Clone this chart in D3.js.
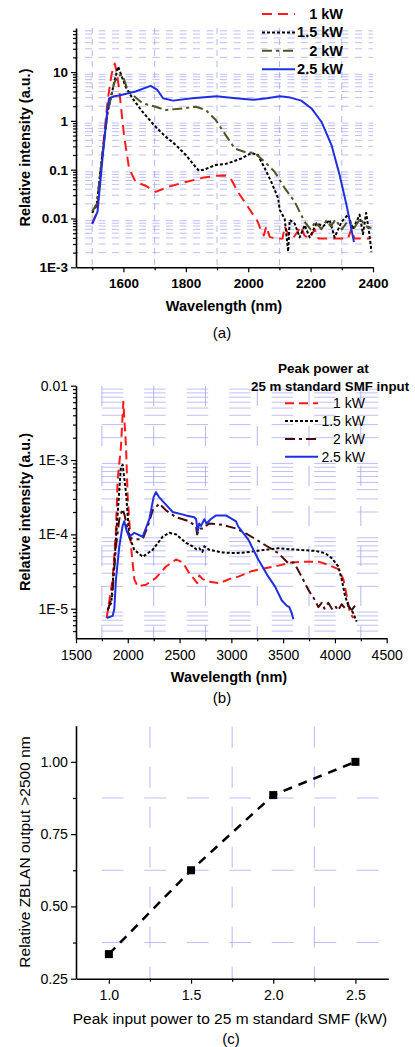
<!DOCTYPE html>
<html>
<head>
  <meta charset="utf-8">
  <title>Supercontinuum spectra</title>
  <script src="https://d3js.org/d3.v7.min.js"></script>
  <style>
    body { margin: 0; background: #fff; }
    text { font-family: "Liberation Sans", Arial, sans-serif; fill: #000; }
  </style>
</head>
<body>
<script>
// ---- data (a): ZBLAN output spectra, [wavelength nm, relative intensity]
var aSeries = ["1 kW", "1.5 kW", "2 kW", "2.5 kW"];
var a1kW = [[1500,0.008],[1512,0.012],[1520,0.03],[1535,0.3],[1549,2.5],[1562,9],[1572,15],[1580,9],[1588,3.5],[1602,0.5],[1618,0.107],[1639,0.056],[1671,0.047],[1703,0.035],[1746,0.045],[1800,0.056],[1853,0.068],[1896,0.075],[1925,0.076],[1944,0.066],[1967,0.035],[2000,0.017],[2031,0.0085],[2042,0.0054],[2050,0.0045],[2058,0.0069],[2069,0.0042],[2090,0.0038],[2110,0.0039],[2117,0.0069],[2130,0.0045],[2143,0.0039],[2170,0.0069],[2180,0.0045],[2197,0.0039],[2213,0.006],[2225,0.0039],[2320,0.0039],[2331,0.0062],[2340,0.0039],[2390,0.0039]];
var a15kW = [[1500,0.013],[1515,0.02],[1530,0.15],[1549,1.5],[1570,5.9],[1583,13],[1595,8],[1607,5],[1629,2.9],[1661,1.54],[1698,0.82],[1730,0.51],[1768,0.32],[1800,0.2],[1826,0.125],[1842,0.095],[1858,0.1],[1896,0.125],[1925,0.13],[1949,0.145],[1978,0.17],[2010,0.22],[2031,0.2],[2053,0.107],[2074,0.056],[2096,0.026],[2101,0.015],[2117,0.0098],[2128,0.0021],[2133,0.0093],[2149,0.0079],[2165,0.0041],[2181,0.0073],[2197,0.0041],[2219,0.008],[2240,0.0069],[2261,0.0093],[2277,0.0041],[2299,0.0085],[2320,0.012],[2336,0.006],[2357,0.012],[2368,0.0048],[2378,0.013],[2389,0.0045],[2395,0.0021]];
var a2kW = [[1500,0.014],[1515,0.02],[1530,0.15],[1549,1.4],[1570,6],[1585,8.5],[1597,8.7],[1610,5],[1623,3.7],[1661,2.3],[1703,1.95],[1735,1.67],[1789,1.8],[1832,1.95],[1864,1.67],[1896,1.04],[1928,0.51],[1957,0.27],[1989,0.23],[2021,0.22],[2053,0.145],[2085,0.09],[2117,0.042],[2149,0.022],[2165,0.0137],[2181,0.0085],[2200,0.006],[2215,0.0085],[2235,0.006],[2250,0.009],[2265,0.007],[2280,0.0095],[2300,0.006],[2320,0.009],[2340,0.0065],[2360,0.01],[2375,0.007],[2395,0.0064]];
var a25kW = [[1500,0.0077],[1517,0.0138],[1533,0.17],[1549,1.8],[1554,2.9],[1570,3.2],[1586,3.3],[1639,4.0],[1687,5.2],[1709,4.3],[1727,2.9],[1759,2.6],[1821,2.9],[1898,3.2],[1960,2.9],[2015,2.7],[2060,2.9],[2101,3.2],[2135,3.0],[2170,2.6],[2203,1.8],[2235,0.95],[2267,0.32],[2293,0.078],[2315,0.019],[2328,0.0074],[2339,0.0033]];
var aYTicks = [1e-3, 0.01, 0.1, 1, 10];
var aYLabels = ["1E-3", "0.01", "0.1", "1", "10"];
var aXTicks = [1600, 1800, 2000, 2200, 2400];
var aXMinor = [1500, 1700, 1900, 2100, 2300];

// ---- data (b): spectra at 25 m standard SMF input
var bSeries = ["1 kW", "1.5 kW", "2 kW", "2.5 kW"];
var b1kW = [[1796,7.5e-6],[1854,2.5e-5],[1886,1.15e-4],[1902,5.4e-4],[1934,1.5e-3],[1957,6.1e-3],[1983,1.5e-3],[1999,3.2e-4],[2031,6.9e-5],[2063,2.5e-5],[2095,2e-5],[2176,2.1e-5],[2272,2.6e-5],[2369,3.7e-5],[2466,4.6e-5],[2530,4.2e-5],[2594,3e-5],[2642,2.5e-5],[2670,2.2e-5],[2690,2.8e-5],[2723,2.5e-5],[2787,2.3e-5],[2884,2.2e-5],[2980,2.5e-5],[3067,2.7e-5],[3196,3.2e-5],[3325,3.5e-5],[3453,3.8e-5],[3583,4.2e-5],[3711,4.3e-5],[3840,4.3e-5],[3936,3.9e-5],[4033,3.4e-5],[4081,2.5e-5],[4114,1.5e-5],[4146,8.7e-6],[4178,7.5e-6]];
var b15kW = [[1806,9.7e-6],[1840,1.2e-5],[1870,4.1e-5],[1902,1.9e-4],[1934,8.2e-4],[1951,8.6e-4],[1983,3.6e-4],[2015,9.3e-5],[2063,6.2e-5],[2144,5e-5],[2240,6.2e-5],[2337,9.3e-5],[2401,1.05e-4],[2466,1e-4],[2562,7.7e-5],[2627,6.9e-5],[2660,6.3e-5],[2691,6.5e-5],[2720,5.8e-5],[2739,6.9e-5],[2787,6.2e-5],[2916,5.7e-5],[3045,5.6e-5],[3132,5.7e-5],[3325,6.2e-5],[3453,6.5e-5],[3646,6.2e-5],[3808,6e-5],[3904,5.6e-5],[3969,4.8e-5],[4033,3.7e-5],[4065,2.5e-5],[4097,1.5e-5],[4130,1.1e-5],[4178,8.7e-6],[4210,6.7e-6]];
var b2kW = [[1806,9.5e-6],[1850,1.5e-5],[1886,6.9e-5],[1918,1.6e-4],[1950,2.2e-4],[1970,1.8e-4],[2015,9e-5],[2079,8.6e-5],[2144,8.6e-5],[2192,1.27e-4],[2240,2.1e-4],[2305,2.6e-4],[2369,2.1e-4],[2466,1.7e-4],[2594,1.5e-4],[2659,1.27e-4],[2670,1.0e-4],[2690,1.2e-4],[2723,1.2e-4],[2787,1.4e-4],[2916,1.34e-4],[3045,1.2e-4],[3132,1.05e-4],[3325,7.2e-5],[3453,5.6e-5],[3550,4.1e-5],[3600,4.2e-5],[3630,3.6e-5],[3679,2.7e-5],[3743,1.8e-5],[3808,1.3e-5],[3840,1.05e-5],[3872,1.2e-5],[3900,1e-5],[3936,1.2e-5],[3970,1.0e-5],[4001,1.1e-5],[4030,9.5e-6],[4065,1.15e-5],[4100,1e-5],[4130,1.1e-5],[4160,9.5e-6],[4194,1.1e-5]];
var b25kW = [[1796,7.5e-6],[1854,8e-6],[1870,1e-5],[1886,2.5e-5],[1918,6.9e-5],[1950,1.3e-4],[1966,1.5e-4],[1990,1.1e-4],[2015,9.3e-5],[2063,1.05e-4],[2144,9.3e-5],[2208,1.6e-4],[2250,3.2e-4],[2272,3.7e-4],[2300,3.2e-4],[2337,2.8e-4],[2434,2e-4],[2562,1.8e-4],[2642,1.7e-4],[2660,1.6e-4],[2675,1.1e-4],[2690,1.4e-4],[2707,1.3e-4],[2739,1.6e-4],[2760,1.4e-4],[2800,1.6e-4],[2852,1.8e-4],[2948,1.8e-4],[3045,1.5e-4],[3067,1.27e-4],[3164,8.5e-5],[3260,4.6e-5],[3357,2.7e-5],[3421,2e-5],[3486,1.3e-5],[3534,1.1e-5],[3560,1.05e-5],[3583,8.7e-6],[3599,7.2e-6]];
var bYTicks = [1e-5, 1e-4, 1e-3, 0.01];
var bYLabels = ["1E-5", "1E-4", "1E-3", "0.01"];
var bXTicks = [1500, 2000, 2500, 3000, 3500, 4000, 4500];
var bXMinor = [1750, 2250, 2750, 3250, 3750, 4250];

// ---- data (c): relative ZBLAN output beyond 2500 nm
var cPower = [1.0, 1.5, 2.0, 2.5];
var cRelative = [0.335, 0.625, 0.885, 1.0];
var cXTicks = [1.0, 1.5, 2.0, 2.5];
var cXMinor = [1.25, 1.75, 2.25];
var cYTicks = [0.25, 0.50, 0.75, 1.00];
var cYMinor = [0.375, 0.625, 0.875];

var width = 415, height = 1047;
var svg = d3.select("body").append("svg").attr("width", width).attr("height", height);
var gridColor = "#a3a3f2";

// minor log positions 2..9 per decade
function logMinor(lo, hi) {
  var out = [];
  for (var e = Math.floor(Math.log10(lo)); e <= Math.ceil(Math.log10(hi)); e++) {
    for (var m = 2; m <= 9; m++) {
      var v = m * Math.pow(10, e);
      if (v > lo && v < hi) out.push(v);
    }
  }
  return out;
}

function hGrid(vals, y, x0, x1, dash, offset) {
  svg.append("g").selectAll("line").data(vals).enter().append("line")
    .attr("x1", x0).attr("x2", x1)
    .attr("y1", function (d) { return y(d); }).attr("y2", function (d) { return y(d); })
    .attr("stroke", gridColor).attr("stroke-width", 0.7)
    .attr("stroke-dasharray", dash).attr("stroke-dashoffset", offset);
}
function vGrid(vals, x, y0, y1, dash) {
  svg.append("g").selectAll("line").data(vals).enter().append("line")
    .attr("y1", y0).attr("y2", y1)
    .attr("x1", function (d) { return x(d); }).attr("x2", function (d) { return x(d); })
    .attr("stroke", gridColor).attr("stroke-width", 0.8)
    .attr("stroke-dasharray", dash);
}

function axes(x, y, opt) {
  var bottom = y.range()[0];
  var left = x.range()[0];
  var xa = svg.append("g").attr("transform", "translate(0," + bottom + ")")
    .call(d3.axisBottom(x).tickValues(opt.xTicks).tickSize(5).tickSizeOuter(0).tickFormat(opt.xFmt));
  svg.append("g").attr("transform", "translate(0," + bottom + ")")
    .call(d3.axisBottom(x).tickValues(opt.xMinor).tickSize(3).tickSizeOuter(0).tickFormat(""))
    .select(".domain").remove();
  var ya = svg.append("g").attr("transform", "translate(" + left + ",0)")
    .call(d3.axisLeft(y).tickValues(opt.yTicks).tickSize(5).tickSizeOuter(0).tickFormat(opt.yFmt));
  svg.append("g").attr("transform", "translate(" + left + ",0)")
    .call(d3.axisLeft(y).tickValues(opt.yMinor).tickSize(3).tickSizeOuter(0).tickFormat(""))
    .select(".domain").remove();
  [xa, ya].forEach(function (g) {
    g.selectAll("text").style("font-size", opt.fs + "px").style("font-weight", opt.fw)
      .style("font-family", '"Liberation Sans", Arial, sans-serif').attr("fill", "#000");
  });
  xa.selectAll("text").attr("dy", "0.95em").attr("y", 8);
  ya.selectAll("text").attr("x", -8);
  svg.selectAll(".domain").attr("stroke-width", 1.6).attr("stroke", "#000");
  svg.selectAll(".tick line").attr("stroke-width", 1.2).attr("stroke", "#000");
}

function series(data, x, y, color, dash, w) {
  svg.append("path").datum(data)
    .attr("fill", "none").attr("stroke", color).attr("stroke-width", w || 2)
    .attr("stroke-dasharray", dash).attr("stroke-linejoin", "round")
    .attr("d", d3.line().x(function (d) { return x(d[0]); }).y(function (d) { return y(d[1]); }));
}

function label(txt, x, y, opt) {
  var t = svg.append("text").attr("x", x).attr("y", y).text(txt)
    .attr("text-anchor", opt.anchor || "middle")
    .style("font-size", opt.fs + "px").style("font-weight", opt.fw || "normal");
  if (opt.rot) t.attr("transform", "rotate(-90," + x + "," + y + ")");
  return t;
}

// ================= panel (a)
var xA = d3.scaleLinear().domain([1448, 2400]).range([76, 373]);
var yA = d3.scaleLog().domain([1e-3, 80]).range([267.3, 28]);
hGrid(logMinor(1e-3, 80), yA, 76, 373, "7,6.5", 4.5);
vGrid(aXMinor, xA, 28, 267, "6,5");
var aStyles = [
  { data: a1kW, color: "#ff1a1a", dash: "10,6" },
  { data: a15kW, color: "#000000", dash: "3,2" },
  { data: a2kW, color: "#4f5521", dash: "10,4,3,4" },
  { data: a25kW, color: "#1f2fe0", dash: null }
];
aStyles.forEach(function (s) { series(s.data, xA, yA, s.color, s.dash); });
axes(xA, yA, {
  xTicks: aXTicks, xMinor: aXMinor, yTicks: aYTicks, yMinor: logMinor(1e-3, 80),
  xFmt: d3.format("d"), yFmt: function (d, i) { return aYLabels[i]; }, fs: 13.5, fw: "bold"
});
aSeries.forEach(function (name, i) {
  var yy = 14 + i * 18.4;
  svg.append("line").attr("x1", 262).attr("x2", 295).attr("y1", yy).attr("y2", yy)
    .attr("stroke", aStyles[i].color).attr("stroke-width", 2).attr("stroke-dasharray", aStyles[i].dash);
  label(name, 343, yy + 5, { anchor: "end", fs: 14.5, fw: "bold" });
});
label("Wavelength (nm)", 224, 311, { fs: 14.5, fw: "bold" });
label("Relative intensity (a.u.)", 30, 147.5, { fs: 14.5, fw: "bold", rot: true });
label("(a)", 222, 338, { fs: 15 });

// ================= panel (b)
var xB = d3.scaleLinear().domain([1500, 4500]).range([76, 386.7]);
var yB = d3.scaleLog().domain([4e-6, 0.01]).range([638.3, 385.7]);
hGrid(logMinor(4e-6, 0.01), yB, 101.7, 386.7, "21.5,21", 0);
vGrid(bXMinor, xB, 386, 638, "20,20");
var bStyles = [
  { data: b1kW, color: "#ff1a1a", dash: "9,5" },
  { data: b15kW, color: "#000000", dash: "3,2" },
  { data: b2kW, color: "#4a0b0b", dash: "10,4,3,4" },
  { data: b25kW, color: "#1f2fe0", dash: null }
];
bStyles.forEach(function (s) { series(s.data, xB, yB, s.color, s.dash); });
axes(xB, yB, {
  xTicks: bXTicks, xMinor: bXMinor, yTicks: bYTicks, yMinor: logMinor(4e-6, 0.01),
  xFmt: d3.format("d"), yFmt: function (d, i) { return bYLabels[i]; }, fs: 14, fw: "normal"
});
label("Peak power at", 278, 373, { anchor: "start", fs: 13.5, fw: "bold" });
label("25 m standard SMF input", 251, 391, { anchor: "start", fs: 13.3, fw: "bold" });
bSeries.forEach(function (name, i) {
  var yy = 403.3 + i * 17.8;
  svg.append("line").attr("x1", 285).attr("x2", 318).attr("y1", yy).attr("y2", yy)
    .attr("stroke", bStyles[i].color).attr("stroke-width", 2).attr("stroke-dasharray", bStyles[i].dash);
  label(name, 365, yy + 5, { anchor: "end", fs: 14 });
});
label("Wavelength (nm)", 229, 682, { fs: 14.5, fw: "bold" });
label("Relative intensity (a.u.)", 30, 512, { fs: 14.5, fw: "bold", rot: true });
label("(b)", 222, 703, { fs: 15 });

// ================= panel (c)
var xC = d3.scaleLinear().domain([0.8, 2.7]).range([76, 388.3]);
var yC = d3.scaleLinear().domain([0.25, 1.125]).range([978.7, 725.7]);
hGrid(cYMinor, yC, 101.7, 388.3, "22,20.5", 0);
vGrid(cXMinor, xC, 726.7, 978.7, "21,19");
var cData = cPower.map(function (p, i) { return [p, cRelative[i]]; });
series(cData, xC, yC, "#000", "9,7", 2.5);
svg.append("g").selectAll("rect").data(cData).enter().append("rect")
  .attr("x", function (d) { return xC(d[0]) - 4; }).attr("y", function (d) { return yC(d[1]) - 4; })
  .attr("width", 8).attr("height", 8).attr("fill", "#000");
axes(xC, yC, {
  xTicks: cXTicks, xMinor: cXMinor, yTicks: cYTicks, yMinor: cYMinor,
  xFmt: d3.format(".1f"), yFmt: d3.format(".2f"), fs: 14.2, fw: "normal"
});
label("Peak input power to 25 m standard SMF (kW)", 230, 1023.5, { fs: 15.5 });
label("Relative ZBLAN output >2500 nm", 30, 852, { fs: 15.5, rot: true });
label("(c)", 231, 1044, { fs: 15 });
</script>
</body>
</html>
